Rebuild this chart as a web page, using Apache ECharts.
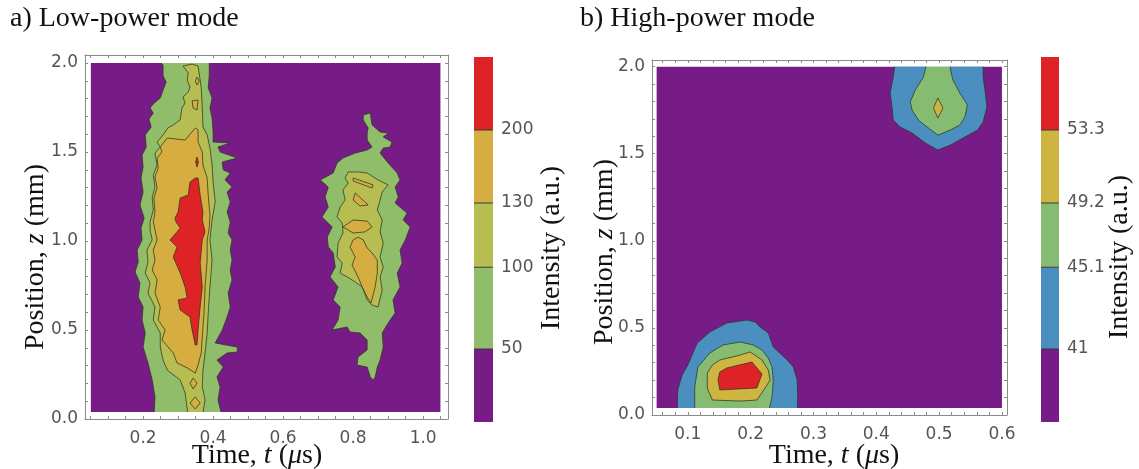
<!DOCTYPE html>
<html>
<head>
<meta charset="utf-8">
<script src="https://cdn.jsdelivr.net/npm/echarts@6/dist/echarts.min.js"></script>
<style>
  html, body { margin: 0; background: #fff; }
  #chart { width: 1139px; height: 469px; }
</style>
</head>
<body>
<div id="chart"></div>
<script>
// ---- panel a: low-power mode ----
const tRangeA = [0.05, 1.05];
const zRangeA = [0.04, 2.0];
const levelsA = [50, 100, 130, 200];

// contour regions above each level, [t (us), z (mm)]
const a50 = [
  [[0.234,2.03],[0.257,1.989],[0.257,1.927],[0.266,1.893],[0.257,1.848],[0.249,1.803],[0.229,1.770],[0.220,1.747],[0.229,1.719],[0.217,1.685],[0.223,1.640],[0.206,1.596],[0.209,1.528],[0.197,1.483],[0.200,1.416],[0.194,1.354],[0.200,1.275],[0.191,1.202],[0.203,1.129],[0.194,1.073],[0.197,1.006],[0.183,0.949],[0.186,0.882],[0.177,0.826],[0.191,0.764],[0.186,0.685],[0.200,0.629],[0.197,0.556],[0.206,0.483],[0.200,0.404],[0.214,0.315],[0.226,0.219],[0.234,0.124],[0.231,0.01],
   [0.426,0.01],[0.414,0.107],[0.420,0.180],[0.411,0.236],[0.429,0.292],[0.411,0.331],[0.440,0.371],[0.469,0.376],[0.469,0.404],[0.406,0.427],[0.426,0.500],[0.440,0.573],[0.449,0.629],[0.443,0.708],[0.454,0.781],[0.449,0.837],[0.454,0.893],[0.449,0.949],[0.454,1.006],[0.443,1.045],[0.449,1.107],[0.440,1.163],[0.449,1.219],[0.440,1.275],[0.454,1.303],[0.434,1.343],[0.449,1.382],[0.429,1.399],[0.426,1.444],[0.469,1.466],[0.420,1.500],[0.414,1.528],[0.449,1.551],[0.400,1.556],[0.400,1.612],[0.397,1.691],[0.391,1.747],[0.397,1.803],[0.386,1.860],[0.389,1.933],[0.389,1.989],[0.391,2.03]],
  [[0.829,1.708],[0.849,1.719],[0.854,1.652],[0.877,1.612],[0.900,1.607],[0.886,1.584],[0.911,1.556],[0.906,1.528],[0.886,1.522],[0.877,1.494],[0.900,1.438],[0.926,1.382],[0.934,1.343],[0.920,1.303],[0.929,1.247],[0.920,1.213],[0.954,1.157],[0.943,1.118],[0.963,1.079],[0.949,1.006],[0.934,0.949],[0.940,0.876],[0.926,0.820],[0.934,0.742],[0.914,0.669],[0.920,0.596],[0.900,0.539],[0.883,0.483],[0.886,0.404],[0.877,0.331],[0.869,0.292],[0.863,0.236],[0.857,0.219],[0.849,0.236],[0.840,0.292],[0.811,0.303],[0.814,0.348],[0.840,0.388],[0.840,0.444],[0.820,0.483],[0.791,0.489],[0.783,0.517],[0.740,0.500],[0.757,0.556],[0.763,0.629],[0.743,0.669],[0.757,0.742],[0.734,0.798],[0.749,0.854],[0.743,0.933],[0.729,0.966],[0.726,1.022],[0.740,1.079],[0.711,1.135],[0.729,1.191],[0.720,1.247],[0.729,1.303],[0.706,1.343],[0.743,1.382],[0.754,1.438],[0.771,1.466],[0.806,1.494],[0.840,1.511],[0.854,1.528],[0.840,1.567],[0.840,1.607],[0.843,1.635],[0.829,1.680]]
];
const a100 = [
  [[0.340,1.994],[0.314,1.983],[0.329,1.944],[0.326,1.904],[0.334,1.865],[0.329,1.837],[0.314,1.809],[0.320,1.775],[0.311,1.747],[0.306,1.680],[0.286,1.652],[0.271,1.635],[0.257,1.596],[0.240,1.556],[0.249,1.528],[0.234,1.494],[0.240,1.427],[0.229,1.371],[0.234,1.303],[0.226,1.247],[0.229,1.174],[0.220,1.107],[0.220,1.062],[0.226,1.006],[0.211,0.949],[0.214,0.882],[0.206,0.820],[0.220,0.764],[0.214,0.708],[0.234,0.629],[0.229,0.556],[0.249,0.483],[0.249,0.404],[0.257,0.331],[0.269,0.275],[0.306,0.219],[0.320,0.146],[0.329,0.01],
   [0.369,0.01],[0.377,0.107],[0.369,0.180],[0.371,0.275],[0.377,0.371],[0.383,0.483],[0.386,0.596],[0.391,0.742],[0.397,0.893],[0.391,1.006],[0.397,1.118],[0.406,1.219],[0.400,1.331],[0.397,1.427],[0.391,1.522],[0.383,1.596],[0.371,1.640],[0.369,1.747],[0.366,1.860],[0.357,1.983]],
  [[0.786,1.388],[0.814,1.388],[0.840,1.382],[0.871,1.343],[0.900,1.315],[0.883,1.275],[0.877,1.230],[0.869,1.174],[0.883,1.118],[0.877,1.051],[0.886,0.989],[0.877,0.910],[0.886,0.854],[0.877,0.798],[0.883,0.725],[0.871,0.629],[0.854,0.640],[0.840,0.669],[0.826,0.742],[0.806,0.770],[0.783,0.798],[0.763,0.820],[0.769,0.876],[0.754,0.910],[0.757,0.989],[0.771,1.045],[0.769,1.101],[0.754,1.135],[0.763,1.191],[0.777,1.230],[0.771,1.287],[0.786,1.326],[0.777,1.354]]
];
const a130 = [
  [[0.349,1.635],[0.320,1.567],[0.269,1.579],[0.249,1.528],[0.254,1.500],[0.240,1.466],[0.243,1.410],[0.234,1.360],[0.240,1.298],[0.231,1.242],[0.234,1.163],[0.229,1.107],[0.234,1.062],[0.240,1.006],[0.229,0.949],[0.234,0.893],[0.226,0.837],[0.240,0.781],[0.234,0.708],[0.249,0.629],[0.243,0.556],[0.263,0.500],[0.254,0.444],[0.286,0.371],[0.297,0.315],[0.326,0.287],[0.349,0.258],
   [0.357,0.303],[0.366,0.371],[0.369,0.461],[0.374,0.596],[0.377,0.742],[0.383,0.893],[0.383,1.006],[0.389,1.073],[0.391,1.146],[0.386,1.258],[0.383,1.354],[0.371,1.427],[0.369,1.500],[0.357,1.556],[0.357,1.624]],
  [[0.334,0.202],[0.343,0.230],[0.354,0.202],[0.343,0.169]],
  [[0.334,0.090],[0.349,0.124],[0.363,0.090],[0.349,0.056]],
  [[0.349,1.899],[0.354,1.921],[0.360,1.899],[0.354,1.876]],
  [[0.340,1.787],[0.357,1.792],[0.354,1.736],[0.343,1.747]],
  [[0.800,1.354],[0.857,1.315],[0.854,1.298],[0.800,1.337]],
  [[0.806,1.270],[0.843,1.202],[0.820,1.197],[0.800,1.230]],
  [[0.771,1.079],[0.800,1.118],[0.840,1.112],[0.854,1.079],[0.834,1.051],[0.800,1.045]],
  [[0.800,1.006],[0.814,1.022],[0.829,1.006],[0.840,0.961],[0.854,0.933],[0.869,0.893],[0.869,0.820],[0.863,0.742],[0.851,0.652],[0.840,0.685],[0.826,0.742],[0.814,0.798],[0.797,0.865],[0.806,0.910],[0.791,0.966]]
];
const a200 = [
  [[0.349,1.354],[0.334,1.331],[0.329,1.258],[0.306,1.242],[0.300,1.163],[0.291,1.129],[0.294,1.107],[0.306,1.073],[0.277,1.006],[0.297,0.966],[0.286,0.910],[0.306,0.820],[0.320,0.742],[0.326,0.680],[0.300,0.669],[0.306,0.612],[0.334,0.573],[0.340,0.500],[0.349,0.416],
   [0.354,0.416],[0.357,0.500],[0.363,0.629],[0.369,0.742],[0.363,0.876],[0.369,1.006],[0.377,1.051],[0.369,1.118],[0.371,1.163],[0.363,1.258],[0.357,1.354]],
  [[0.354,1.472],[0.358,1.444],[0.354,1.416],[0.350,1.444]]
];

// ---- panel b: high-power mode ----
const tRangeB = [0.05, 0.6];
const zRangeB = [0.04, 2.0];
const levelsB = [41, 45.1, 49.2, 53.3];

const b41 = [
  [[0.083,0.01],[0.084,0.144],[0.091,0.230],[0.100,0.287],[0.115,0.413],[0.135,0.476],[0.162,0.528],[0.194,0.545],[0.207,0.534],[0.215,0.505],[0.228,0.471],[0.236,0.390],[0.258,0.316],[0.268,0.276],[0.274,0.201],[0.275,0.103],[0.274,0.01]],
  [[0.430,2.03],[0.427,1.940],[0.422,1.848],[0.425,1.768],[0.427,1.693],[0.438,1.653],[0.457,1.619],[0.478,1.561],[0.498,1.521],[0.518,1.550],[0.538,1.590],[0.561,1.636],[0.570,1.682],[0.576,1.768],[0.573,1.866],[0.570,1.940],[0.570,2.03]]
];
const b45 = [
  [[0.111,0.01],[0.111,0.161],[0.116,0.276],[0.135,0.356],[0.156,0.402],[0.183,0.419],[0.204,0.402],[0.218,0.373],[0.228,0.327],[0.234,0.276],[0.236,0.201],[0.234,0.103],[0.228,0.01]],
  [[0.481,2.03],[0.475,1.940],[0.462,1.866],[0.454,1.797],[0.457,1.751],[0.467,1.693],[0.481,1.653],[0.498,1.607],[0.518,1.636],[0.533,1.665],[0.541,1.711],[0.545,1.780],[0.533,1.848],[0.522,1.923],[0.518,1.981],[0.518,2.03]]
];
const b49 = [
  [[0.139,0.086],[0.131,0.155],[0.131,0.241],[0.139,0.287],[0.151,0.316],[0.178,0.339],[0.199,0.362],[0.207,0.344],[0.218,0.316],[0.228,0.258],[0.231,0.201],[0.223,0.155],[0.210,0.086],[0.183,0.080]],
  [[0.498,1.820],[0.506,1.762],[0.498,1.705],[0.491,1.762]]
];
const b53 = [
  [[0.148,0.201],[0.151,0.247],[0.162,0.270],[0.202,0.304],[0.218,0.235],[0.210,0.155],[0.151,0.144]]
];

// tick values
const ticksTA = [0.05,0.1,0.15,0.2,0.25,0.3,0.35,0.4,0.45,0.5,0.55,0.6,0.65,0.7,0.75,0.8,0.85,0.9,0.95,1.0,1.05];
const labelsTA = [0.2,0.4,0.6,0.8,1.0];
const ticksTB = [0.06,0.08,0.1,0.12,0.14,0.16,0.18,0.2,0.22,0.24,0.26,0.28,0.3,0.32,0.34,0.36,0.38,0.4,0.42,0.44,0.46,0.48,0.5,0.52,0.54,0.56,0.58,0.6];
const labelsTB = [0.1,0.2,0.3,0.4,0.5,0.6];
const ticksZ = [0,0.1,0.2,0.3,0.4,0.5,0.6,0.7,0.8,0.9,1.0,1.1,1.2,1.3,1.4,1.5,1.6,1.7,1.8,1.9,2.0];
const labelsZ = [0,0.5,1.0,1.5,2.0];
// colour bar band edges and where the level ticks sit on it
const cbEdges = [0, 1, 2.12, 3, 4, 5];
const cbTicks = [1, 2.12, 3, 4];

const colorsA = ['#771c87', '#8fbd6a', '#b7bd51', '#d6ad40', '#dd2326'];
const colorsB = ['#771c87', '#4b8fc1', '#86bc72', '#ceb541', '#dd2326'];
const lineColor = 'rgba(45,55,35,0.85)';
const sans = 'DejaVu Sans';
const serif = 'Liberation Serif';
const serifSize = 28;

const chart = echarts.init(document.getElementById('chart'));

function frameAxis(grid, pos, lim, ticks, labels) {
  return {
    type: 'value', gridIndex: grid, position: pos, min: lim[0], max: lim[1], z: 5,
    axisLine: { show: true, onZero: false, lineStyle: { color: '#8a8a8a', width: 1 } },
    splitLine: { show: false },
    axisTick: { show: true, inside: true, length: 3, customValues: ticks, lineStyle: { color: '#8a8a8a' } },
    axisLabel: labels ? {
      show: true, customValues: labels, color: '#555', fontFamily: sans, fontSize: 17,
      margin: (pos === 'bottom') ? 11 : 7, formatter: v => v.toFixed(1)
    } : { show: false }
  };
}

function contourSeries(xi, yi, tR, zR, bands, colors) {
  const regions = [{ pts: [[tR[0], zR[0]], [tR[1], zR[0]], [tR[1], zR[1]], [tR[0], zR[1]]], c: colors[0], line: false }];
  bands.forEach((polys, k) => polys.forEach(p => regions.push({ pts: p, c: colors[k + 1], line: true })));
  return {
    type: 'custom', xAxisIndex: xi, yAxisIndex: yi, silent: true, z: 2,
    data: regions.map((r, i) => [tR[0], zR[0], i]),
    renderItem: (params, api) => {
      const r = regions[api.value(2)];
      return {
        type: 'polygon',
        shape: { points: r.pts.map(p => api.coord(p)) },
        style: { fill: r.c, stroke: r.line ? lineColor : null, lineWidth: 0.9 }
      };
    }
  };
}

function maskSeries(xi, yi, tR, zR) {
  return {
    type: 'custom', xAxisIndex: xi, yAxisIndex: yi, silent: true, z: 3,
    data: [[tR[0], zR[0]]],
    renderItem: (params, api) => {
      const cs = params.coordSys;
      const p0 = api.coord([tR[0], zR[1]]);
      const p1 = api.coord([tR[1], zR[0]]);
      const st = { fill: '#fff' };
      return {
        type: 'group', children: [
          { type: 'rect', shape: { x: cs.x, y: cs.y, width: cs.width, height: p0[1] - cs.y }, style: st },
          { type: 'rect', shape: { x: cs.x, y: p1[1], width: cs.width, height: cs.y + cs.height - p1[1] }, style: st },
          { type: 'rect', shape: { x: cs.x, y: cs.y, width: p0[0] - cs.x, height: cs.height }, style: st },
          { type: 'rect', shape: { x: p1[0], y: cs.y, width: cs.x + cs.width - p1[0], height: cs.height }, style: st }
        ]
      };
    }
  };
}

function colorbarSeries(xi, yi, colors) {
  return {
    type: 'custom', xAxisIndex: xi, yAxisIndex: yi, silent: true,
    data: colors.map((c, i) => [0.5, (cbEdges[i] + cbEdges[i + 1]) / 2, i]),
    renderItem: (params, api) => {
      const i = api.value(2);
      const a = api.coord([0, cbEdges[i + 1]]);
      const b = api.coord([1, cbEdges[i]]);
      const kids = [{ type: 'rect', shape: { x: a[0], y: a[1], width: b[0] - a[0], height: b[1] - a[1] }, style: { fill: colors[i] } }];
      if (i > 0) kids.push({ type: 'line', shape: { x1: a[0], y1: b[1], x2: b[0], y2: b[1] }, style: { stroke: '#3a3a3a', lineWidth: 1 } });
      return { type: 'group', children: kids };
    }
  };
}

function colorbarAxis(grid, levels) {
  return {
    type: 'value', gridIndex: grid, position: 'right', min: cbEdges[0], max: cbEdges[cbEdges.length - 1],
    axisLine: { show: false }, splitLine: { show: false },
    axisTick: { show: true, inside: false, length: 5, customValues: cbTicks, lineStyle: { color: '#999' } },
    axisLabel: {
      show: true, customValues: cbTicks, margin: 8, color: '#555', fontFamily: sans, fontSize: 17,
      formatter: v => String(levels[cbTicks.indexOf(v)])
    }
  };
}

const rich = {
  n: { fontFamily: serif, fontSize: serifSize, fill: '#111' },
  i: { fontFamily: serif, fontSize: serifSize, fontStyle: 'italic', fill: '#111' }
};
const serifFont = serifSize + 'px "' + serif + '"';
function label(x, y, text, rot) {
  return {
    type: 'text', x: x, y: y, rotation: rot || 0, silent: true,
    style: { text: text, rich: rich, font: serifFont, fill: '#111', align: 'center', verticalAlign: 'middle' }
  };
}

chart.setOption({
  animation: false,
  backgroundColor: '#fff',
  grid: [
    { left: 85, top: 55, width: 363, height: 364 },
    { left: 652, top: 60, width: 355, height: 355 },
    { left: 474, top: 57, width: 19, height: 365 },
    { left: 1041, top: 57, width: 18, height: 365 }
  ],
  xAxis: [
    frameAxis(0, 'bottom', [0.034, 1.071], ticksTA, labelsTA),
    frameAxis(0, 'top', [0.034, 1.071], ticksTA, null),
    frameAxis(1, 'bottom', [0.043, 0.608], ticksTB, labelsTB),
    frameAxis(1, 'top', [0.043, 0.608], ticksTB, null),
    { type: 'value', gridIndex: 2, min: 0, max: 1, show: false },
    { type: 'value', gridIndex: 3, min: 0, max: 1, show: false }
  ],
  yAxis: [
    frameAxis(0, 'left', [0, 2.045], ticksZ, labelsZ),
    frameAxis(0, 'right', [0, 2.045], ticksZ, null),
    frameAxis(1, 'left', [0, 2.038], ticksZ, labelsZ),
    frameAxis(1, 'right', [0, 2.038], ticksZ, null),
    colorbarAxis(2, levelsA),
    colorbarAxis(3, levelsB)
  ],
  series: [
    contourSeries(0, 0, tRangeA, zRangeA, [a50, a100, a130, a200], colorsA),
    maskSeries(0, 0, tRangeA, zRangeA),
    contourSeries(2, 2, tRangeB, zRangeB, [b41, b45, b49, b53], colorsB),
    maskSeries(2, 2, tRangeB, zRangeB),
    colorbarSeries(4, 4, colorsA),
    colorbarSeries(5, 5, colorsB)
  ],
  graphic: [
    { type: 'text', left: 10, top: 5, silent: true, style: { text: 'a) Low-power mode', font: serifFont, fill: '#111' } },
    { type: 'text', left: 580, top: 5, silent: true, style: { text: 'b) High-power mode', font: serifFont, fill: '#111' } },
    label(257, 456, '{n|Time, }{i|t}{n| (}{i|μ}{n|s)}'),
    label(834, 456, '{n|Time, }{i|t}{n| (}{i|μ}{n|s)}'),
    label(36, 257, '{n|Position, }{i|z}{n| (mm)}', Math.PI / 2),
    label(605, 252, '{n|Position, }{i|z}{n| (mm)}', Math.PI / 2),
    label(552, 248, 'Intensity (a.u.)', Math.PI / 2),
    label(1120, 257, 'Intensity (a.u.)', Math.PI / 2)
  ]
});
</script>
</body>
</html>
